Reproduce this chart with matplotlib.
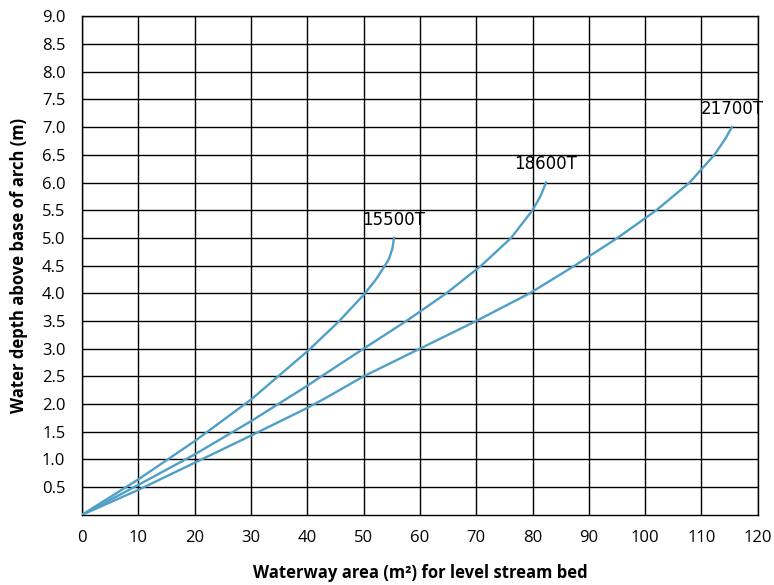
"""Waterway area vs water depth for arch sizes"""

import matplotlib
matplotlib.use("Agg")
from matplotlib import pyplot as plt

# curve readings (waterway area m2, depth m)
area_15500 = [0, 10, 20, 30, 40, 45.5, 50, 52.2, 53.8, 54.5, 55.1, 55.4]
depth_15500 = [0, 0.64, 1.33, 2.08, 2.95, 3.48, 3.97, 4.25, 4.5, 4.62, 4.8, 5.0]

area_18600 = [0, 10, 20, 30, 40, 42.5, 50, 57.6, 64.7, 70.9, 76.2, 80.0, 81.4, 82.4]
depth_18600 = [0, 0.54, 1.09, 1.69, 2.33, 2.5, 3.0, 3.5, 4.0, 4.5, 5.0, 5.5, 5.75, 6.0]

area_21700 = [0, 10, 20, 30, 40, 43.1, 50, 60, 70, 79.5, 87.5, 95.1, 102, 107.9, 112.3, 114.3, 115.4]
depth_21700 = [0, 0.45, 0.94, 1.43, 1.93, 2.1, 2.5, 3.0, 3.5, 4.0, 4.5, 5.0, 5.5, 6.0, 6.5, 6.8, 7.0]

curve_names = ["15500T", "18600T", "21700T"]

x_ticks = list(range(0, 121, 10))
y_ticks = [v / 2 for v in range(1, 19)]

LINE_COLOR = "#4f9fc7"

plt.rcParams['font.family'] = ['Open Sans', 'DejaVu Sans']

fig = plt.figure(figsize=(7.74, 5.85), dpi=100)
ax = fig.add_axes([0.106, 0.12, 0.873, 0.852])

curves = [(area_15500, depth_15500), (area_18600, depth_18600), (area_21700, depth_21700)]
for (xs, ys), name in zip(curves, curve_names):
    ax.plot(xs, ys, color=LINE_COLOR, lw=1.7, zorder=3)
    ax.text(xs[-1], ys[-1] + 0.33, name, ha='center', va='center',
            fontsize=12, family=['DejaVu Sans'], zorder=4)

ax.set_xlim(0, 120)
ax.set_ylim(0, 9.0)
ax.set_xticks(x_ticks)
ax.set_yticks(y_ticks)
ax.set_yticklabels([f"{v:.1f}" for v in y_ticks])
ax.tick_params(length=0, labelsize=12)
ax.tick_params(axis='y', pad=12)
ax.tick_params(axis='x', pad=11)
ax.grid(True, color='black', lw=1.0)
ax.set_axisbelow(True)
for sp in ax.spines.values():
    sp.set_color('black')
    sp.set_linewidth(1.0)

ax.set_xlabel("Waterway area (m²) for level stream bed", fontsize=12,
              fontweight='bold', labelpad=13)
ax.set_ylabel("Water depth above base of arch (m)", fontsize=12,
              fontweight='bold', labelpad=10)

plt.savefig("out.png")
